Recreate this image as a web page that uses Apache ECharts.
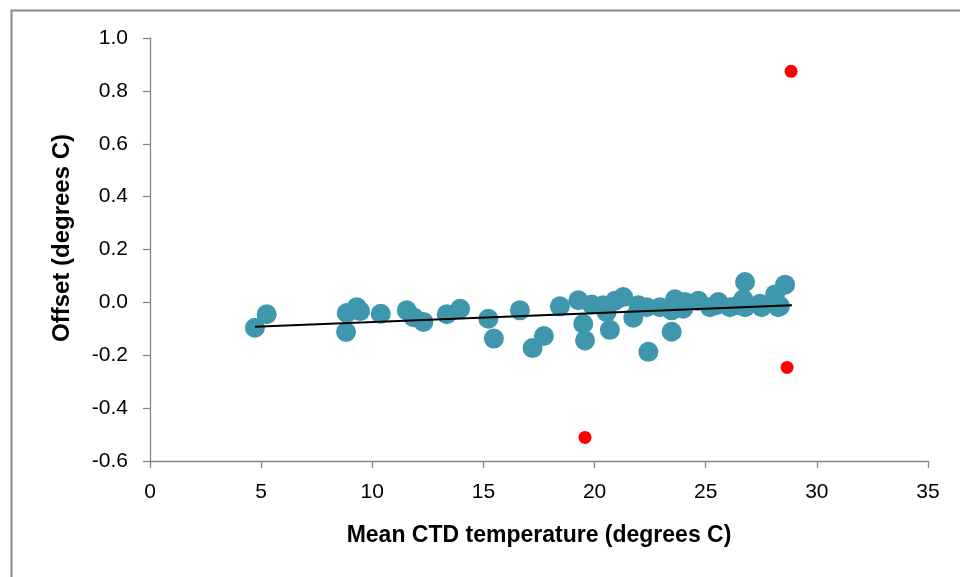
<!DOCTYPE html>
<html>
<head>
<meta charset="utf-8">
<script src="https://cdn.jsdelivr.net/npm/echarts@6/dist/echarts.min.js"></script>
<style>
html,body{margin:0;padding:0;background:#fff;}
#chart{width:960px;height:577px;}
</style>
</head>
<body>
<div id="chart"></div>
<script>
// Blue points: mean CTD temperature (x) and offset (y)
var blueX = [4.72, 5.25, 8.82, 8.85, 9.30, 9.45, 10.38, 11.55, 11.85, 12.30, 13.35, 13.95,
  15.22, 15.47, 16.64, 17.21, 17.72, 18.44, 19.27, 19.49, 19.57, 19.87, 20.39, 20.54, 20.69,
  20.92, 21.29, 21.74, 21.97, 22.34, 22.42, 22.94, 23.47, 23.47, 23.62, 23.99, 24.07, 24.67,
  25.19, 25.49, 25.57, 26.09, 26.45, 26.69, 26.77, 26.77, 27.44, 27.52, 28.12, 28.26, 28.34, 28.57];
var blueY = [-0.096, -0.045, -0.112, -0.040, -0.018, -0.033, -0.043, -0.030, -0.056, -0.074, -0.045, -0.024,
  -0.062, -0.137, -0.030, -0.173, -0.127, -0.015, 0.008, -0.081, -0.144, -0.008, -0.011, -0.037, -0.104,
  0.006, 0.020, -0.058, -0.011, -0.018, -0.187, -0.018, -0.030, -0.111, 0.012, -0.024, 0.001, 0.006,
  -0.018, -0.011, 0.001, -0.018, -0.011, 0.012, 0.077, -0.018, -0.005, -0.018, 0.030, -0.018, -0.014, 0.067];
// Red outliers
var redX = [19.57, 28.66, 28.84];
var redY = [-0.511, -0.246, 0.874];
// Linear trend line endpoints
var trendX = [4.72, 28.88];
var trendY = [-0.092, -0.011];
// Axis ticks
var xTicks = [0, 5, 10, 15, 20, 25, 30, 35];
var yTicks = [-0.6, -0.4, -0.2, 0.0, 0.2, 0.4, 0.6, 0.8, 1.0];

var xTitle = 'Mean CTD temperature (degrees C)';
var yTitle = 'Offset (degrees C)';

function zip(a, b) { return a.map(function (v, i) { return [v, b[i]]; }); }

var fontFam = '"Liberation Sans", Arial, sans-serif';
var axisCol = '#868686';

var chart = echarts.init(document.getElementById('chart'), null, {renderer: 'canvas'});
chart.setOption({
  animation: false,
  backgroundColor: '#ffffff',
  grid: {left: 150, right: 32, top: 38, bottom: 116, containLabel: false},
  xAxis: {
    type: 'value', min: xTicks[0], max: xTicks[xTicks.length - 1], interval: 5,
    axisLine: {show: true, onZero: false, lineStyle: {color: axisCol, width: 1.3}},
    axisTick: {show: true, length: 7, inside: false, lineStyle: {color: axisCol, width: 1.3}},
    axisLabel: {color: '#000', fontSize: 21, fontFamily: fontFam, margin: 21},
    splitLine: {show: false}
  },
  yAxis: {
    type: 'value', min: yTicks[0], max: yTicks[yTicks.length - 1], interval: 0.2,
    axisLine: {show: true, onZero: false, lineStyle: {color: axisCol, width: 1.3}},
    axisTick: {show: true, length: 7, inside: false, lineStyle: {color: axisCol, width: 1.3}},
    axisLabel: {color: '#000', fontSize: 21, fontFamily: fontFam, margin: 22,
      formatter: function (v) { return v.toFixed(1); }},
    splitLine: {show: false}
  },
  graphic: [
    {type: 'rect', left: 9, top: 8, shape: {width: 1000, height: 1000},
      style: {fill: 'none', stroke: '#888888', lineWidth: 2}, silent: true},
    {type: 'text', x: 539, y: 536,
      style: {text: xTitle, font: 'bold 23px ' + fontFam, fill: '#000', align: 'center', verticalAlign: 'middle'}},
    {type: 'text', rotation: Math.PI / 2, x: 62, y: 238,
      style: {text: yTitle, font: 'bold 24px ' + fontFam, fill: '#000', align: 'center', verticalAlign: 'middle'}}
  ],
  series: [
    {type: 'scatter', data: zip(blueX, blueY), symbol: 'circle', symbolSize: 20,
      itemStyle: {color: '#3f97ae', opacity: 1}, z: 2},
    {type: 'scatter', data: zip(redX, redY), symbol: 'circle', symbolSize: 13,
      itemStyle: {color: '#ff0000', opacity: 1}, z: 3},
    {type: 'line', data: zip(trendX, trendY), symbol: 'none',
      lineStyle: {color: '#000', width: 2}, z: 4}
  ]
});
</script>
</body>
</html>
